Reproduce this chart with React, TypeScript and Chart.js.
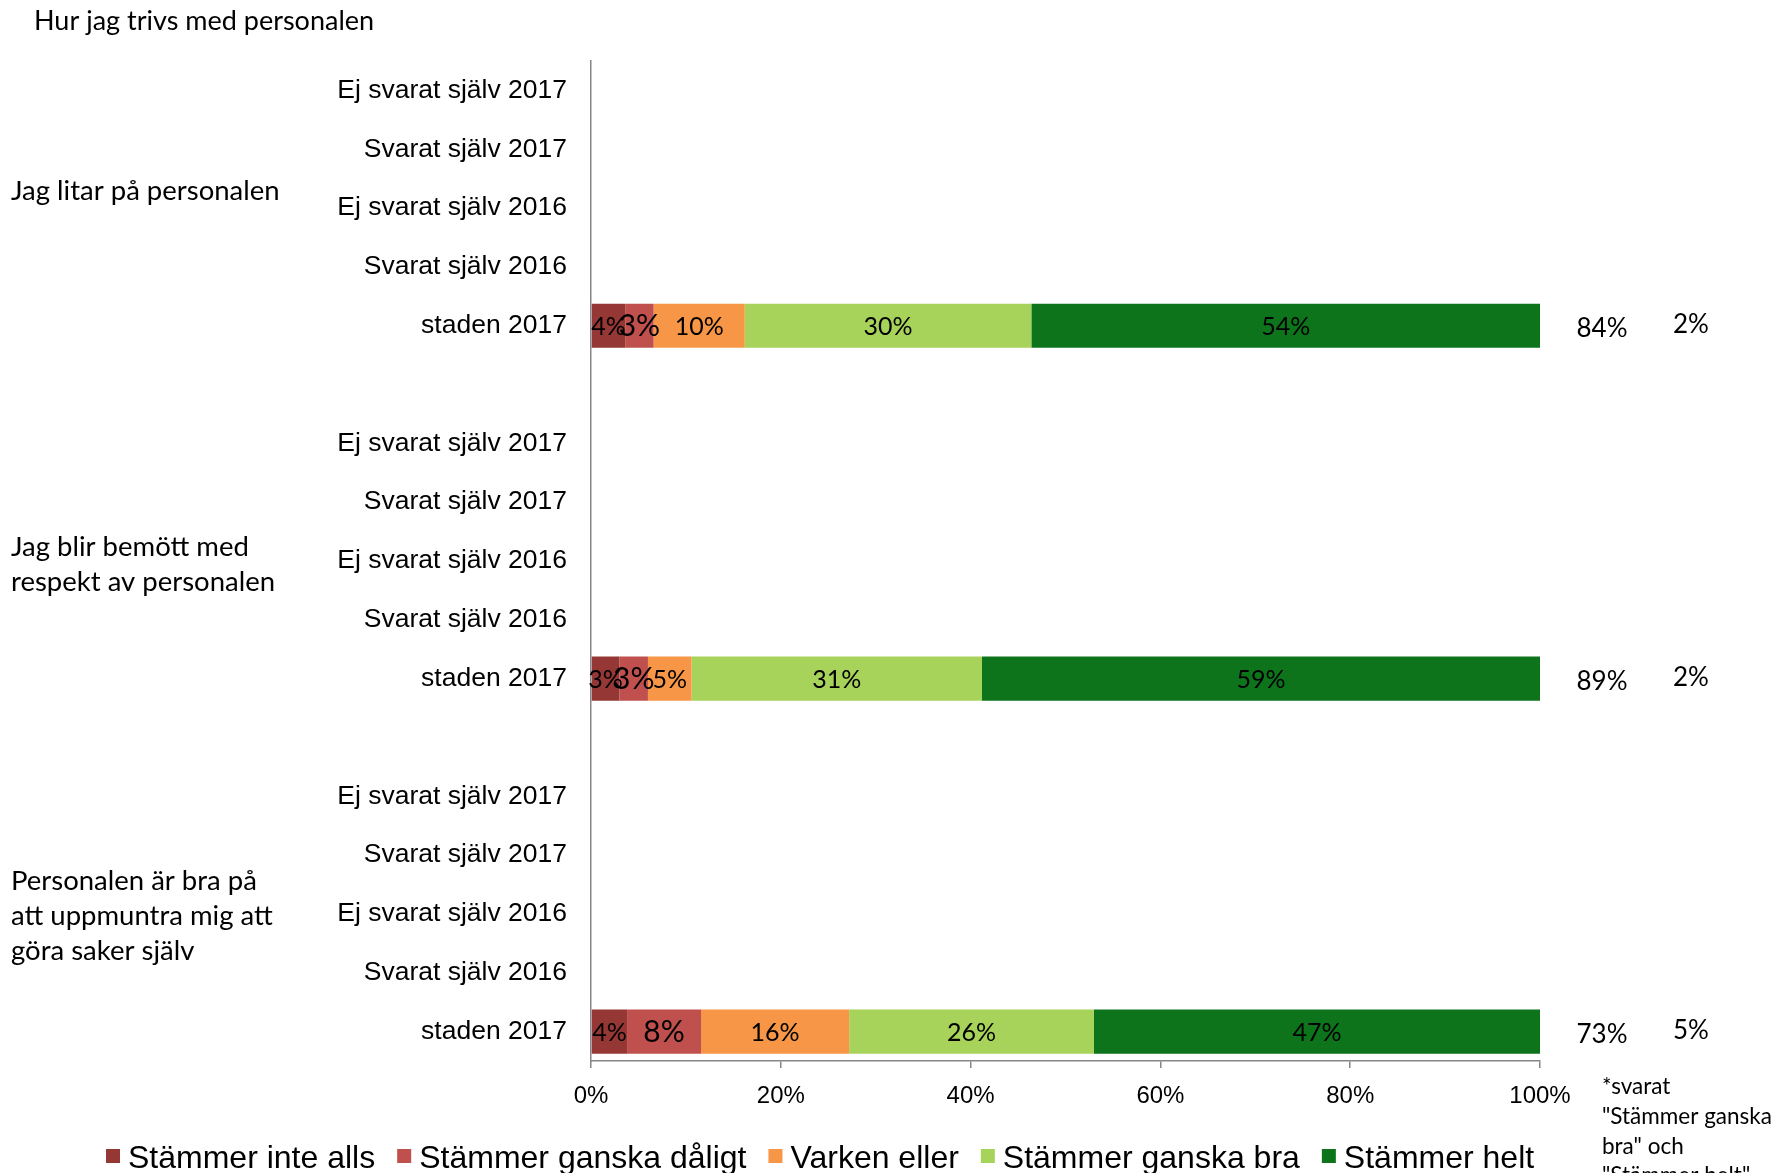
import React, { useEffect, useRef } from 'react';
import { Chart, registerables } from 'chart.js';

Chart.register(...registerables);

// ---- Data ----
const chartTitle = 'Hur jag trivs med personalen';
const questions: string[][] = [
  ['Jag litar på personalen'],
  ['Jag blir bemött med', 'respekt av personalen'],
  ['Personalen är bra på', 'att uppmuntra mig att', 'göra saker själv'],
];
const subCategories = ['Ej svarat själv 2017', 'Svarat själv 2017', 'Ej svarat själv 2016', 'Svarat själv 2016', 'staden 2017'];
const seriesNames = ['Stämmer inte alls', 'Stämmer ganska dåligt', 'Varken eller', 'Stämmer ganska bra', 'Stämmer helt'];
const stammerInteAlls = [3.6, 3.0, 3.8];
const stammerGanskaDaligt = [3.0, 3.0, 7.8];
const varkenEller = [9.6, 4.6, 15.6];
const stammerGanskaBra = [30.2, 30.6, 25.8];
const stammerHelt = [53.6, 58.8, 47.0];
const positiveShare = [84, 89, 73];
const notAnswered = [2, 2, 5];
const footnoteLines = ['*svarat', '"Stämmer ganska', 'bra" och', '"Stämmer helt"'];
const xTickValues = [0, 20, 40, 60, 80, 100];

// ---- Styles ----
const seriesColors = ['#953735', '#C0504D', '#F79646', '#A8D35A', '#0E741C'];
const AXIS_FONT = "'Liberation Sans', Arial, sans-serif";
const CAL_FONT = "Lato, 'Open Sans', sans-serif";

const W = 1777;
const H = 1173;

// build 17 category rows: 5 sub rows per question, one empty spacer between
const labels: string[] = [];
const dataRowIndex: number[] = [];
questions.forEach((_, qi) => {
  subCategories.forEach((s) => labels.push(s));
  dataRowIndex.push(labels.length - 1);
  if (qi < questions.length - 1) labels.push('');
});

const seriesValues = [stammerInteAlls, stammerGanskaDaligt, varkenEller, stammerGanskaBra, stammerHelt];

function expand(vals: number[]): (number | null)[] {
  const arr: (number | null)[] = labels.map(() => null);
  vals.forEach((v, i) => {
    arr[dataRowIndex[i]] = v;
  });
  return arr;
}

const overlayPlugin = {
  id: 'overlay',
  afterDatasetsDraw(chart: any) {
    const ctx = chart.ctx as CanvasRenderingContext2D;
    ctx.save();
    chart.data.datasets.forEach((ds: any, di: number) => {
      const meta = chart.getDatasetMeta(di);
      meta.data.forEach((el: any, i: number) => {
        const v = ds.data[i];
        if (v === null || v === undefined) return;
        const cx = (el.x + el.base) / 2;
        ctx.font = `${di === 1 ? 30 : 25}px ${CAL_FONT}`;
        ctx.textAlign = 'center';
        ctx.textBaseline = 'middle';
        ctx.fillStyle = '#000';
        ctx.fillText(`${Math.round(v)}%`, cx, el.y + 1);
      });
    });
    ctx.restore();
  },
  afterDraw(chart: any) {
    const ctx = chart.ctx as CanvasRenderingContext2D;
    const yScale = chart.scales.y;
    ctx.save();
    ctx.fillStyle = '#000';

    // title
    ctx.font = `27px ${CAL_FONT}`;
    ctx.textAlign = 'left';
    ctx.textBaseline = 'middle';
    ctx.fillText(chartTitle, 34, 21);

    // group labels
    const groupOffsets = [-17, 4, 2];
    questions.forEach((lines, qi) => {
      const midRow = dataRowIndex[qi] - 2;
      const cy = yScale.getPixelForValue(midRow) + groupOffsets[qi];
      const lh = 35;
      ctx.font = `27.5px ${CAL_FONT}`;
      ctx.textAlign = 'left';
      ctx.textBaseline = 'middle';
      lines.forEach((ln, li) => {
        ctx.fillText(ln, 11, cy + (li - (lines.length - 1) / 2) * lh);
      });
    });

    // right-hand percentages
    positiveShare.forEach((v, i) => {
      const y = yScale.getPixelForValue(dataRowIndex[i]);
      ctx.font = `26px ${CAL_FONT}`;
      ctx.textAlign = 'center';
      ctx.textBaseline = 'middle';
      ctx.fillText(`${v}%`, 1602, y + 3);
      ctx.fillText(`${notAnswered[i]}%`, 1691, y - 1);
    });

    // footnote
    ctx.font = `22.5px ${CAL_FONT}`;
    ctx.textAlign = 'left';
    ctx.textBaseline = 'middle';
    footnoteLines.forEach((ln, i) => {
      ctx.fillText(ln, 1602, 1087 + i * 29.7);
    });

    // legend
    let x = 106;
    const box = 14;
    ctx.font = `32px ${AXIS_FONT}`;
    ctx.textBaseline = 'alphabetic';
    seriesNames.forEach((name, i) => {
      ctx.fillStyle = seriesColors[i];
      ctx.fillRect(x, 1149, box, box);
      ctx.fillStyle = '#000';
      ctx.fillText(name, x + box + 8, 1168);
      const w = ctx.measureText(name).width;
      x += box + 8 + w + 22;
    });

    ctx.restore();
  },
};

export default function App() {
  const canvasRef = useRef<HTMLCanvasElement | null>(null);

  useEffect(() => {
    document.body.style.margin = '0';
    document.body.style.overflow = 'hidden';
    const canvas = canvasRef.current;
    if (!canvas) return;

    const chart = new Chart(canvas, {
      type: 'bar',
      data: {
        labels,
        datasets: seriesNames.map((name, i) => ({
          label: name,
          data: expand(seriesValues[i]),
          backgroundColor: seriesColors[i],
          borderWidth: 0,
          barPercentage: 0.75,
          categoryPercentage: 1,
        })),
      },
      options: {
        indexAxis: 'y',
        responsive: true,
        maintainAspectRatio: false,
        animation: false,
        layout: { padding: { top: 61, right: 237, bottom: 0, left: 0 } },
        plugins: {
          legend: { display: false },
          title: { display: false },
          tooltip: { enabled: false },
        },
        scales: {
          x: {
            stacked: true,
            min: 0,
            max: 100,
            afterBuildTicks: (scale: any) => {
              scale.ticks = xTickValues.map((v) => ({ value: v }));
            },
            afterFit: (scale: any) => {
              scale.height = 112;
            },
            ticks: {
              stepSize: 20,
              color: '#000',
              font: { family: AXIS_FONT, size: 24 },
              padding: 14,
              callback: (v: any) => `${v}%`,
            },
            grid: {
              display: true,
              drawOnChartArea: false,
              drawTicks: true,
              tickLength: 7,
              color: '#868686',
              lineWidth: 1.5,
            },
            border: { display: true, color: '#868686', width: 1.5 },
          },
          y: {
            stacked: true,
            afterFit: (scale: any) => {
              scale.width = 591;
            },
            ticks: {
              autoSkip: false,
              color: '#000',
              font: { family: AXIS_FONT, size: 26.5 },
              padding: 24,
            },
            grid: { display: false, drawTicks: false },
            border: { display: true, color: '#868686', width: 1.5 },
          },
        },
      },
      plugins: [overlayPlugin],
    });

    return () => {
      chart.destroy();
    };
  }, []);

  return (
    <div style={{ width: W, height: H, position: 'relative', background: '#fff' }}>
      <canvas ref={canvasRef} />
    </div>
  );
}
